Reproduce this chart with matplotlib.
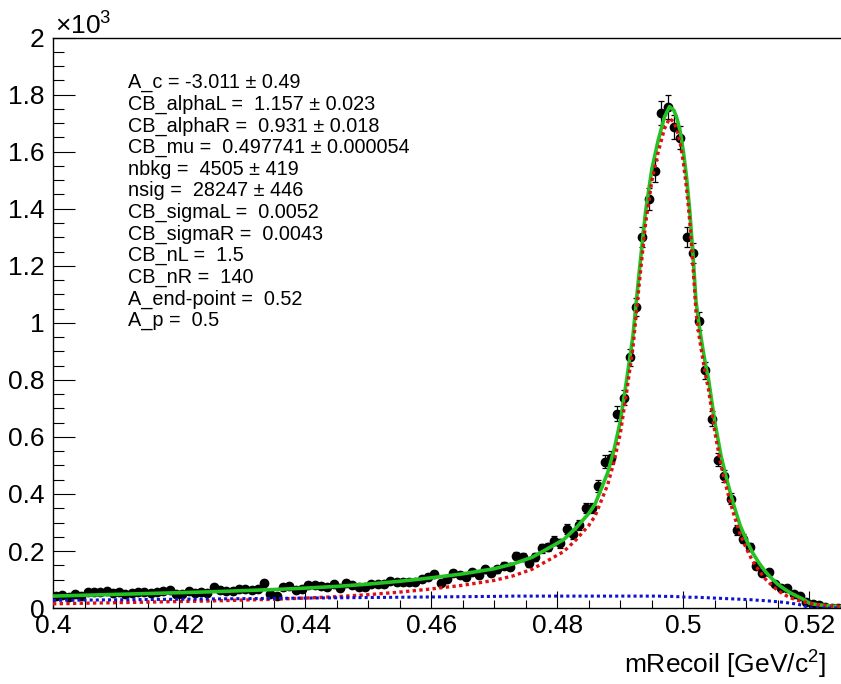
import numpy as np
import matplotlib
matplotlib.use("Agg")
import matplotlib.pyplot as plt
from matplotlib.ticker import FixedLocator, FuncFormatter, MultipleLocator

plt.rcParams['font.family'] = ['Liberation Sans', 'DejaVu Sans']
plt.rcParams['mathtext.default'] = 'regular'

# data: bin centres (width 0.001) and counts
bin_centers = np.arange(0.4005, 0.525, 0.001)
counts = [43, 45, 40, 48, 44, 56, 57, 55, 60, 53,
          57, 50, 53, 57, 57, 52, 57, 60, 63, 50,
          50, 60, 54, 57, 54, 75, 63, 60, 60, 67,
          66, 63, 67, 89, 48, 43, 73, 77, 65, 68,
          82, 80, 78, 73, 84, 69, 89, 81, 73, 73,
          84, 84, 84, 96, 90, 90, 92, 92, 101, 108,
          119, 89, 101, 124, 116, 110, 127, 116, 136, 124,
          136, 148, 145, 184, 178, 157, 178, 209, 213, 236,
          227, 277, 260, 292, 351, 351, 429, 513, 527, 682,
          738, 879, 1055, 1301, 1434, 1533, 1736, 1758, 1687, 1649,
          1301, 1244, 1005, 833, 664, 520, 464, 383, 274, 243,
          214, 148, 123, 127, 84, 70, 70, 49, 42, 21,
          14, 11, 4, 1, 2]

# fit curves
curve_x = [0.400, 0.405, 0.410, 0.415, 0.420, 0.425, 0.430, 0.435, 0.440, 0.445,
           0.450, 0.455, 0.460, 0.465, 0.470, 0.473, 0.476, 0.479, 0.481, 0.483,
           0.485, 0.486, 0.487, 0.488, 0.489, 0.490, 0.491, 0.492, 0.493, 0.494,
           0.495, 0.496, 0.497, 0.4978, 0.4985, 0.499, 0.4995, 0.500, 0.5005, 0.501,
           0.5015, 0.502, 0.5025, 0.503, 0.5035, 0.504, 0.505, 0.506, 0.507, 0.508,
           0.509, 0.510, 0.511, 0.512, 0.513, 0.514, 0.515, 0.516, 0.517, 0.518,
           0.519, 0.520, 0.521, 0.522, 0.523, 0.524, 0.525]
total = [42, 45, 48, 51, 54, 57, 61, 65, 70, 76,
         84, 94, 106, 120, 138, 155, 178, 215, 240, 282,
         332, 365, 420, 475, 555, 655, 800, 955, 1180, 1390,
         1540, 1640, 1722, 1758, 1745, 1715, 1670, 1600, 1510, 1395,
         1245, 1075, 990, 920, 855, 800, 650, 530, 440, 360,
         290, 238, 193, 158, 128, 104, 83, 67, 53, 42,
         31, 17, 13, 10, 8, 6, 5]
signal = [15, 17, 19, 21, 23, 25, 28, 31, 35, 40,
          47, 56, 67, 80, 97, 113, 136, 173, 198, 240,
          290, 323, 378, 433, 513, 613, 758, 913, 1138, 1348,
          1498, 1598, 1681, 1717, 1704, 1675, 1630, 1561, 1471, 1357,
          1207, 1037, 952, 883, 819, 764, 615, 496, 407, 328,
          259, 208, 164, 131, 102, 80, 61, 47, 36, 28,
          22, 17, 13, 10, 8, 6, 5]
background = [27, 28, 29, 30, 31, 32, 33, 34, 35, 36,
              37, 38, 39, 40, 41, 42, 42, 42, 42, 42,
              42, 42, 42, 42, 42, 42, 42, 42, 42, 42,
              42, 42, 41, 41, 41, 40, 40, 39, 39, 38,
              38, 38, 38, 37, 37, 36, 35, 34, 33, 32,
              31, 30, 29, 27, 26, 24, 22, 20, 17, 14,
              9, 0, 0, 0, 0, 0, 0]

params = ["A_c = -3.011 \u00b1 0.49",
          "CB_alphaL =  1.157 \u00b1 0.023",
          "CB_alphaR =  0.931 \u00b1 0.018",
          "CB_mu =  0.497741 \u00b1 0.000054",
          "nbkg =  4505 \u00b1 419",
          "nsig =  28247 \u00b1 446",
          "CB_sigmaL =  0.0052",
          "CB_sigmaR =  0.0043",
          "CB_nL =  1.5",
          "CB_nR =  140",
          "A_end-point =  0.52",
          "A_p =  0.5"]

fig = plt.figure(figsize=(8.41, 6.84), dpi=100)
ax = fig.add_axes([0.063, 0.111, 0.937, 0.834])

counts = np.array(counts, dtype=float)
ax.errorbar(bin_centers, counts, yerr=np.sqrt(counts), fmt='o', color='black',
            ms=6, elinewidth=0.9, capsize=2, capthick=0.9, zorder=2)
ax.plot(curve_x, total, color='#22c322', lw=2.6, zorder=3)
ax.plot(curve_x, signal, color='#e01010', lw=2.4, ls=(0, (1, 1)), zorder=4)
ax.plot(curve_x, background, color='#1010d0', lw=2.2, ls=(0, (1, 1)), zorder=5)

ax.set_xlim(0.4, 0.525)
ax.set_ylim(0, 2000)

ax.xaxis.set_major_locator(FixedLocator([0.40, 0.42, 0.44, 0.46, 0.48, 0.50, 0.52]))
ax.xaxis.set_minor_locator(MultipleLocator(0.005))
ax.xaxis.set_major_formatter(FuncFormatter(lambda v, p: '%g' % round(v, 3)))
ax.yaxis.set_major_locator(MultipleLocator(200))
ax.yaxis.set_minor_locator(MultipleLocator(50))
ax.yaxis.set_major_formatter(FuncFormatter(lambda v, p: '%g' % round(v / 1000, 2)))

ax.tick_params(axis='both', which='both', direction='in', top=False, right=False,
               labelsize=19, width=0.8)
ax.tick_params(axis='x', which='major', length=12, pad=4)
ax.tick_params(axis='x', which='minor', length=6)
ax.tick_params(axis='y', which='major', length=16, pad=6)
ax.tick_params(axis='y', which='minor', length=8)
for s in ['left', 'bottom', 'top']:
    ax.spines[s].set_linewidth(1.0)
ax.spines['right'].set_visible(False)

fig.text(0.065, 1 - 26 / 684, u"\u00d710$^{3}$", fontsize=19, ha='left', va='center')
fig.text(826 / 841, 1 - 665 / 684, "mRecoil [GeV/c$^{2}$]", fontsize=19,
         ha='right', va='center')

for k, line in enumerate(params):
    ax.text(128 / 841, 1 - (83 + 21.6 * k) / 684, line, transform=fig.transFigure,
            fontsize=14.3, ha='left', va='center')

fig.savefig("out.png", dpi=100)
